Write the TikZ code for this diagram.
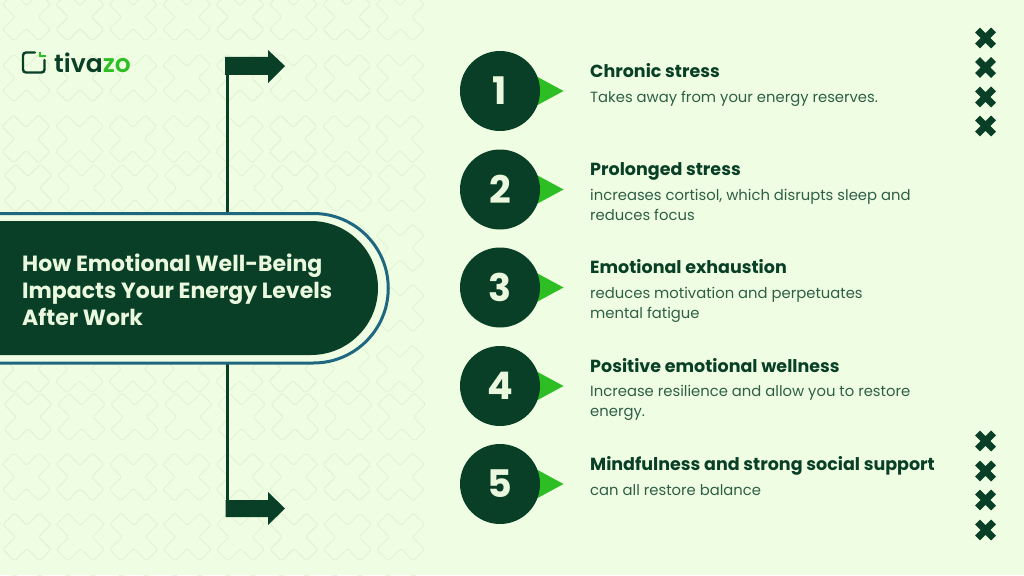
\documentclass[tikz,border=0pt]{standalone}
\usepackage{fontspec}
\setmainfont{Poppins}
\newfontfamily\popsemi{Poppins SemiBold}
\definecolor{bgc}{HTML}{EFFEE2}
\definecolor{patc}{HTML}{E0F3D4}
\definecolor{darkg}{HTML}{0A3F27}
\definecolor{bodyg}{HTML}{2F5E47}
\definecolor{teal1}{HTML}{1F6680}
\definecolor{lime}{HTML}{2DBE23}
\definecolor{pale}{HTML}{EAF8DE}
\tikzset{
  patx/.style={draw=patc,line width=0.9pt,rounded corners=1.6pt},
  mark x/.style={draw=darkg,line width=7pt},
  stem/.style={draw=darkg,line width=3pt},
  arrowfill/.style={fill=darkg},
  numc/.style={circle,fill=darkg,minimum size=80pt,inner sep=0pt,text=pale,font=\bfseries\fontsize{38}{38}\selectfont},
  tri/.style={fill=lime},
  ttl/.style={anchor=base west,inner sep=0pt,text=darkg,font=\bfseries\fontsize{17.5}{20}\selectfont},
  bdy/.style={anchor=north west,inner sep=0pt,align=left,text=bodyg,font=\fontsize{14.8}{20}\selectfont},
}
\newcommand{\patmark}[2]{\draw[patx,shift={(#1,#2)}] (0,-11.5) -- (12.5,-24) -- (24,-12.5) -- (11.5,0) -- (24,12.5) -- (12.5,24) -- (0,11.5) -- (-12.5,24) -- (-24,12.5) -- (-11.5,0) -- (-24,-12.5) -- (-12.5,-24) -- cycle;}
\newcommand{\bigx}[2]{\draw[mark x] (#1-8,#2-8) -- (#1+8,#2+8) (#1+8,#2-8) -- (#1-8,#2+8);}
\begin{document}
\begin{tikzpicture}[x=1pt,y=-1pt]
\useasboundingbox (0,0) rectangle (1024,575);
\fill[bgc] (0,0) rectangle (1024,575);
\begin{scope}
\clip (0,0) rectangle (1024,575);
\foreach \rx/\ry in {26.5/17,26.5/78,26/139,28/188,26.5/248,26.5/308,26/369,28/417,26.5/477,27/537,27/598}{
  \foreach \k in {0,...,7}{ \patmark{\rx+53.4*\k}{\ry} }
}
\end{scope}
% logo
\draw[darkg,line width=2.4pt,line cap=round,rounded corners=3pt] (35,52.5) -- (23,52.5) -- (23,72.5) -- (44.5,72.5) -- (44.5,60);
\draw[lime,line width=2.2pt] (40,52) -- (40,56) -- (45.5,56);
\node[anchor=base west,inner sep=0pt] (logo) at (54,72.5) {\popsemi\fontsize{25}{24}\selectfont\textcolor{darkg}{tiva}\textcolor{lime}{zo}};
% stems and arrows
\coordinate (panelTop) at (227,213.5);
\coordinate (panelBot) at (227,363);
\coordinate (elbowTop) at (227,60);
\coordinate (elbowBot) at (227,512);
\draw[stem] (panelTop) -- (elbowTop);
\draw[stem] (panelBot) -- (elbowBot);
\fill[arrowfill] (225,57) -- (268,57) -- (268,50) -- (285,66) -- (268,83) -- (268,75) -- (225,75) -- cycle;
\fill[arrowfill] (225.5,500) -- (268,500) -- (268,492) -- (285,508.5) -- (268,525) -- (268,517) -- (225.5,517) -- cycle;
% panel
\draw[teal1,fill=bgc,line width=3pt] (-3,213.5) -- (313.5,213.5) arc[start angle=-90,end angle=90,radius=74.75,y=-1pt,x=1pt] -- (-3,363) -- cycle;
\fill[darkg] (0,221) -- (311,221) arc[start angle=-90,end angle=90,radius=67] -- (0,355) -- cycle;
\node[anchor=north west,inner sep=0pt,align=left,text=pale,font=\bfseries\fontsize{22}{27}\selectfont] (title) at (22,252.1) {\strut How Emotional Well-Being\\\strut Impacts Your Energy Levels\\\strut After Work};
% list
\foreach \n/\y in {1/91,2/189.5,3/287.5,4/386,5/484}{
  \fill[tri] (533,\y-16.5) -- (563.5,\y) -- (533,\y+16.5) -- cycle;
  \node[numc] (c\n) at (500,\y) {\raisebox{-1pt}{\n}};
}
\node[ttl] (t1) at (590,77.7) {Chronic stress};
\node[bdy] (b1) at (590,88) {\strut Takes away from your energy reserves.};
\node[ttl] (t2) at (590,175.7) {Prolonged stress};
\node[bdy] (b2) at (590,186) {\strut increases cortisol, which disrupts sleep and\\\strut reduces focus};
\node[ttl] (t3) at (590,273.7) {Emotional exhaustion};
\node[bdy] (b3) at (590,284) {\strut reduces motivation and perpetuates\\\strut mental fatigue};
\node[ttl] (t4) at (590,372.2) {Positive emotional wellness};
\node[bdy] (b4) at (590,382.5) {\strut Increase resilience and allow you to restore\\\strut energy.};
\node[ttl] (t5) at (590,470.5) {Mindfulness and strong social support};
\node[bdy] (b5) at (590,481) {\strut can all restore balance};
% crosses
\foreach \y in {38,67.5,97,126,441,471,500,530}{ \bigx{985.5}{\y} }
\end{tikzpicture}
\end{document}
